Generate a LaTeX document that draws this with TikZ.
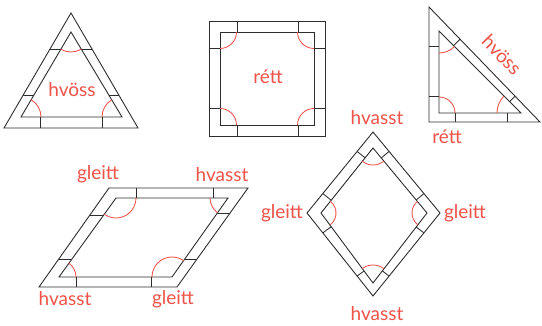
\documentclass[tikz,border=0pt]{standalone}
\usepackage{fontspec}
\newfontfamily\labelfont{Lato}
\usepackage{tikz}
\usetikzlibrary{calc}
\usepackage{xcolor}
\definecolor{AngleRed}{RGB}{238, 82, 72}
\definecolor{FrameBlack}{RGB}{45, 45, 45}
\tikzset{%
  frame_line/.style={%
    draw=FrameBlack,%
    line width=0.9pt,%
    line join=miter,%
  },
  frame_bar/.style={%
    draw=FrameBlack,%
    line width=0.85pt,%
  },
  angle_arc/.style={%
    draw=AngleRed,%
    line width=0.85pt,%
  },
  angle_label/.style={%
    color=AngleRed,%
    font={\labelfont\fontsize{19}{21}\selectfont},%
    inner sep=0pt,%
  },
}
\begin{document}
\begin{tikzpicture}[x=1pt, y=-1pt]
    \useasboundingbox (0,0) rectangle (542,326);

    % equilateral triangle
    \coordinate (tri_oA) at (71,13);
    \coordinate (tri_oL) at (4,128);
    \coordinate (tri_oR) at (138,128);
    \coordinate (tri_iA) at (71,32);
    \coordinate (tri_iL) at (21,117);
    \coordinate (tri_iR) at (122,117);
    \draw [frame_line] (tri_oA) -- (tri_oL) -- (tri_oR) -- cycle;
    \draw [frame_line] (tri_iA) -- (tri_iL) -- (tri_iR) -- cycle;
    \draw [frame_bar] (50,49) -- (61,49);
    \draw [frame_bar] (92,49) -- (81,49);
    \draw [frame_bar] (23,95) -- (34,95);
    \draw [frame_bar] (119,95) -- (109,95);
    \draw [frame_bar] (40,117) -- (40,128);
    \draw [frame_bar] (102,117) -- (102,128);
    \draw [angle_arc] (tri_iA) ++(59:20) arc [start angle=59, end angle=120.5, radius=20];
    \draw [angle_arc] (tri_iL) ++(-59.5:20) arc [start angle=-59.5, end angle=0, radius=20];
    \draw [angle_arc] (tri_iR) ++(180:20) arc [start angle=180, end angle=239, radius=20];
    \node [angle_label] (tri_label) at (72,90) {hvöss};

    % square
    \coordinate (sq_oTL) at (209,21);
    \coordinate (sq_oBR) at (325,136);
    \coordinate (sq_iTL) at (220,32);
    \coordinate (sq_iTR) at (314,32);
    \coordinate (sq_iBR) at (314,125);
    \coordinate (sq_iBL) at (220,125);
    \draw [frame_line] (sq_oTL) rectangle (sq_oBR);
    \draw [frame_line] (sq_iTL) rectangle (sq_iBR);
    \foreach \x in {237, 298} {
      \draw [frame_bar] (\x,21) -- (\x,32);
      \draw [frame_bar] (\x,125) -- (\x,136);
    }
    \foreach \y in {48, 108} {
      \draw [frame_bar] (209,\y) -- (220,\y);
      \draw [frame_bar] (314,\y) -- (325,\y);
    }
    \foreach \c/\s in {sq_iTL/0, sq_iTR/90, sq_iBR/180, sq_iBL/270} {
      \draw [angle_arc] (\c) ++(\s:16.5) arc [start angle=\s, delta angle=90, radius=16.5];
    }
    \node [angle_label] (sq_label) at (268,77) {rétt};

    % right triangle
    \coordinate (rt_oT) at (429,7);
    \coordinate (rt_oL) at (429,122);
    \coordinate (rt_oR) at (540,122);
    \coordinate (rt_iT) at (439,31);
    \coordinate (rt_iL) at (439,113);
    \coordinate (rt_iR) at (521,113);
    \draw [frame_line] (rt_oT) -- (rt_oL) -- (rt_oR) -- cycle;
    \draw [frame_line] (rt_iT) -- (rt_iL) -- (rt_iR) -- cycle;
    \draw [frame_bar] (429,46) -- (439,46);
    \draw [frame_bar] (429,96) -- (439,96);
    \draw [frame_bar] (455,113) -- (455,122);
    \draw [frame_bar] (507,113) -- (507,122);
    \foreach \t in {0.28, 0.775} {
      \coordinate (rt_p) at ($(rt_oT)!\t!(rt_oR)$);
      \draw [frame_bar] (rt_p) -- ($(rt_iT)!(rt_p)!(rt_iR)$);
    }
    \draw [angle_arc] (rt_iT) ++(45:22) arc [start angle=45, end angle=90, radius=22];
    \draw [angle_arc] (rt_iL) ++(-90:16) arc [start angle=-90, end angle=0, radius=16];
    \draw [angle_arc] (rt_iR) ++(180:24) arc [start angle=180, end angle=225, radius=24];
    \node [angle_label, rotate=-46] (rt_label_hyp) at (502,55) {hvöss};
    \node [angle_label] (rt_label_right) at (447,137) {rétt};

    % parallelogram
    \coordinate (pa_oTL) at (109,188);
    \coordinate (pa_oTR) at (248,188);
    \coordinate (pa_oBR) at (177,287);
    \coordinate (pa_oBL) at (39,287);
    \coordinate (pa_iTL) at (116,198);
    \coordinate (pa_iTR) at (228,198);
    \coordinate (pa_iBR) at (172,277);
    \coordinate (pa_iBL) at (59,277);
    \draw [frame_line] (pa_oTL) -- (pa_oTR) -- (pa_oBR) -- (pa_oBL) -- cycle;
    \draw [frame_line] (pa_iTL) -- (pa_iTR) -- (pa_iBR) -- (pa_iBL) -- cycle;
    \draw [frame_bar] (136,188) -- (136,198);
    \draw [frame_bar] (213,188) -- (213,198);
    \draw [frame_bar] (76,277) -- (76,287);
    \draw [frame_bar] (151,277) -- (151,287);
    \draw [frame_bar] (90,215) -- (103.5,215);
    \draw [frame_bar] (59,259) -- (72,259);
    \draw [frame_bar] (230,213) -- (217,213);
    \draw [frame_bar] (197,259) -- (184,259);
    \draw [angle_arc] (pa_iTL) ++(0:20) arc [start angle=0, end angle=125.8, radius=20];
    \draw [angle_arc] (pa_iTR) ++(125.8:18) arc [start angle=125.8, end angle=180, radius=18];
    \draw [angle_arc] (pa_iBR) ++(180:20) arc [start angle=180, end angle=305.8, radius=20];
    \draw [angle_arc] (pa_iBL) ++(-54.2:17) arc [start angle=-54.2, end angle=0, radius=17];
    \node [angle_label] (pa_label_tl) at (98,174) {gleitt};
    \node [angle_label] (pa_label_tr) at (222,175) {hvasst};
    \node [angle_label] (pa_label_bl) at (65,299) {hvasst};
    \node [angle_label] (pa_label_br) at (173,299) {gleitt};

    % rhombus
    \coordinate (rho_oT) at (373,132);
    \coordinate (rho_oL) at (307,213);
    \coordinate (rho_oR) at (440,213);
    \coordinate (rho_oB) at (373,296);
    \coordinate (rho_iT) at (373,148);
    \coordinate (rho_iL) at (321,213);
    \coordinate (rho_iR) at (427,213);
    \coordinate (rho_iB) at (373,283);
    \draw [frame_line] (rho_oT) -- (rho_oL) -- (rho_oB) -- (rho_oR) -- cycle;
    \draw [frame_line] (rho_iT) -- (rho_iL) -- (rho_iB) -- (rho_iR) -- cycle;
    \foreach \a/\b in {T/L, L/T, L/B, B/L, B/R, R/B, R/T, T/R} {
      \coordinate (rho_p) at ($(rho_o\a)!0.24!(rho_o\b)$);
      \draw [frame_bar] (rho_p) -- ($(rho_i\a)!(rho_p)!(rho_i\b)$);
    }
    \draw [angle_arc] (rho_iT) ++(51:17) arc [start angle=51, end angle=129, radius=17];
    \draw [angle_arc] (rho_iL) ++(-51.3:15) arc [start angle=-51.3, end angle=53, radius=15];
    \draw [angle_arc] (rho_iR) ++(127.6:15) arc [start angle=127.6, end angle=230.3, radius=15];
    \draw [angle_arc] (rho_iB) ++(233.8:18) arc [start angle=233.8, end angle=307.3, radius=18];
    \node [angle_label] (rho_label_t) at (377,118) {hvasst};
    \node [angle_label] (rho_label_l) at (282,213) {gleitt};
    \node [angle_label] (rho_label_r) at (465,213) {gleitt};
    \node [angle_label] (rho_label_b) at (377,314) {hvasst};
  \end{tikzpicture}
\end{document}
